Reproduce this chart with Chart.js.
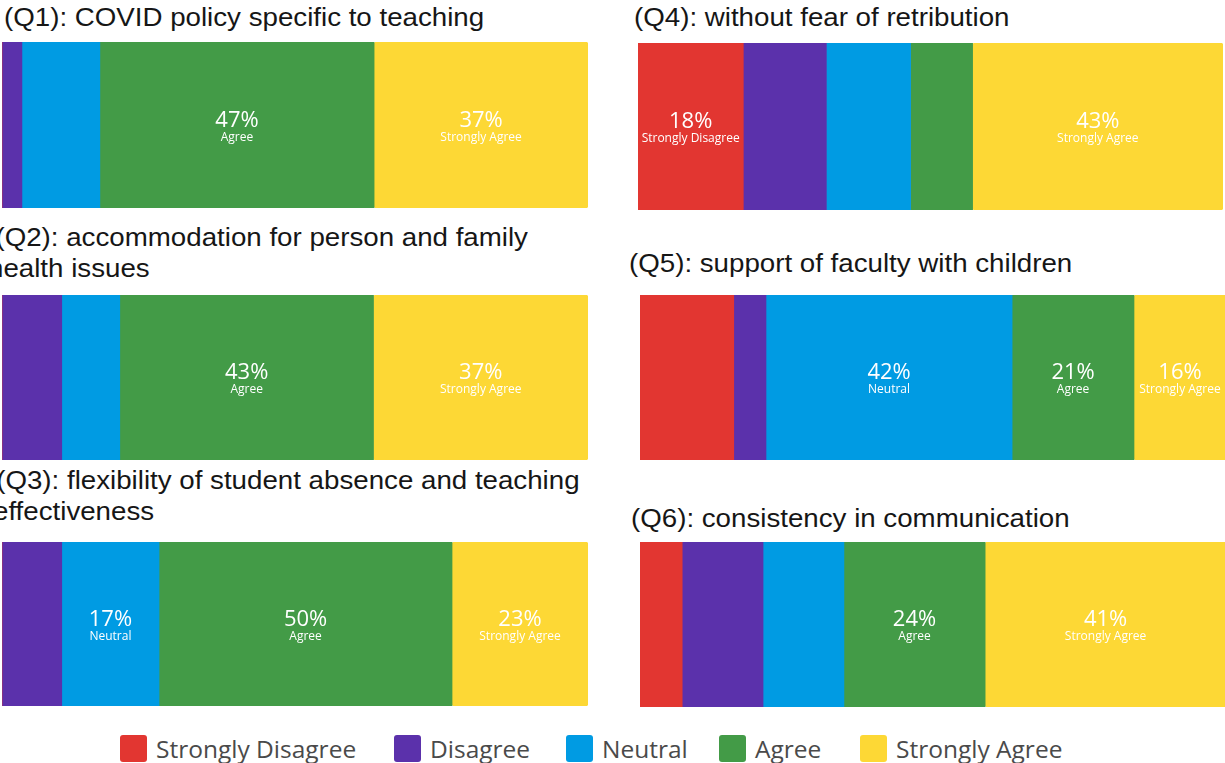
<!DOCTYPE html>
<html><head><meta charset="utf-8">
<script src="https://cdn.jsdelivr.net/npm/chart.js@4.4.0/dist/chart.umd.min.js"></script>
<style>
html,body{margin:0;padding:0;background:#fff;width:1225px;height:763px;overflow:hidden;position:relative;}
.title{position:absolute;font-family:"Liberation Sans",Arial,sans-serif;font-size:26px;line-height:31px;color:#161616;white-space:pre;transform:scaleX(1.065);transform-origin:0 0;}
canvas.bar{position:absolute;}
.sw{position:absolute;top:735px;width:27px;height:27px;border-radius:3px;}
.lt{position:absolute;top:731px;line-height:36px;font-family:"Open Sans",sans-serif;font-size:24.5px;color:#4a4a4a;white-space:nowrap;}
</style></head><body>
<script>
// ---- data ----
const categories = ['Strongly Disagree', 'Disagree', 'Neutral', 'Agree', 'Strongly Agree'];
const questionTitles = [
  '(Q1): COVID policy specific to teaching',
  '(Q2): accommodation for person and family\nhealth issues',
  '(Q3): flexibility of student absence and teaching\neffectiveness',
  '(Q4): without fear of retribution',
  '(Q5): support of faculty with children',
  '(Q6): consistency in communication'
];
const q1Values = [0, 3.4, 13.3, 46.8, 36.5];
const q2Values = [0, 10.2, 9.9, 43.3, 36.6];
const q3Values = [0, 10.2, 16.6, 50.0, 23.2];
const q4Values = [18.0, 14.2, 14.4, 10.6, 42.8];
const q5Values = [16.0, 5.5, 42.0, 20.8, 15.7];
const q6Values = [7.2, 13.8, 13.8, 24.1, 41.1];
const seriesValues = [q1Values, q2Values, q3Values, q4Values, q5Values, q6Values];

// ---- styles / layout ----
const colors = ['#E23631', '#5B31AB', '#009BE3', '#439B47', '#FDD835'];
const panelLayout = [
  {tl: 4,   ti: 0, tt: 1.5,   bl: 2,   bt: 42,  bw: 586, bh: 166},
  {tl: -12, ti: 7, tt: 221.5, bl: 2,   bt: 295, bw: 586, bh: 165},
  {tl: -7,  ti: 3, tt: 464.5, bl: 2,   bt: 542, bw: 586, bh: 164},
  {tl: 634, ti: 0, tt: 2,     bl: 638, bt: 43,  bw: 585, bh: 167},
  {tl: 629, ti: 0, tt: 248,   bl: 640, bt: 295, bw: 586, bh: 165},
  {tl: 631, ti: 0, tt: 502.5, bl: 640, bt: 542, bw: 586, bh: 165}
];
const legendTextX = [156, 430, 602, 755, 896];
const minLabelPct = 15;

const labelPlugin = {
  id: 'segLabels',
  afterDatasetsDraw(chart) {
    const ctx = chart.ctx;
    chart.data.datasets.forEach((ds, i) => {
      const meta = chart.getDatasetMeta(i);
      const v = ds.data[0];
      const el = meta.data[0];
      if (!el || v < minLabelPct) return;
      const p = el.getProps(['x', 'base', 'y'], true);
      const w = Math.abs(p.x - p.base);
      ctx.save();
      ctx.font = '12px "Open Sans"';
      const tw = ctx.measureText(ds.label).width;
      if (tw + 4 > w) { ctx.restore(); return; }
      const cx = (p.x + p.base) / 2;
      ctx.fillStyle = '#ffffff';
      ctx.textAlign = 'center';
      ctx.textBaseline = 'middle';
      ctx.fillText(ds.label, cx, p.y + 12.5);
      ctx.font = '22px "Open Sans"';
      ctx.fillText(Math.round(v) + '%', cx, p.y - 4.5);
      ctx.restore();
    });
  }
};

function build() {
  questionTitles.forEach((t, qi) => {
    const L = panelLayout[qi];
    const d = document.createElement('div');
    d.className = 'title';
    d.style.left = L.tl + 'px';
    d.style.top = L.tt + 'px';
    d.style.textIndent = L.ti + 'px';
    d.textContent = t;
    document.body.appendChild(d);

    const c = document.createElement('canvas');
    c.className = 'bar';
    c.width = L.bw; c.height = L.bh;
    c.style.left = L.bl + 'px'; c.style.top = L.bt + 'px';
    c.style.width = L.bw + 'px'; c.style.height = L.bh + 'px';
    document.body.appendChild(c);

    new Chart(c, {
      type: 'bar',
      data: {
        labels: [t],
        datasets: categories.map((cat, i) => ({
          label: cat,
          data: [seriesValues[qi][i]],
          backgroundColor: colors[i],
          borderWidth: 0,
          borderRadius: 3,
          borderSkipped: false,
          barPercentage: 1,
          categoryPercentage: 1
        }))
      },
      options: {
        indexAxis: 'y',
        responsive: false,
        animation: false,
        devicePixelRatio: 1,
        layout: {padding: 0},
        plugins: {legend: {display: false}, tooltip: {enabled: false}},
        scales: {
          x: {stacked: true, min: 0, max: 100, display: false},
          y: {stacked: true, display: false}
        }
      },
      plugins: [labelPlugin]
    });
  });

  categories.forEach((cat, i) => {
    const sw = document.createElement('div'); sw.className = 'sw';
    sw.style.background = colors[i];
    sw.style.left = (legendTextX[i] - 36) + 'px';
    const tx = document.createElement('div'); tx.className = 'lt';
    tx.style.left = legendTextX[i] + 'px';
    tx.textContent = cat;
    document.body.appendChild(sw); document.body.appendChild(tx);
  });
}
if (document.fonts && document.fonts.ready) document.fonts.ready.then(build); else build();
</script>
</body></html>
